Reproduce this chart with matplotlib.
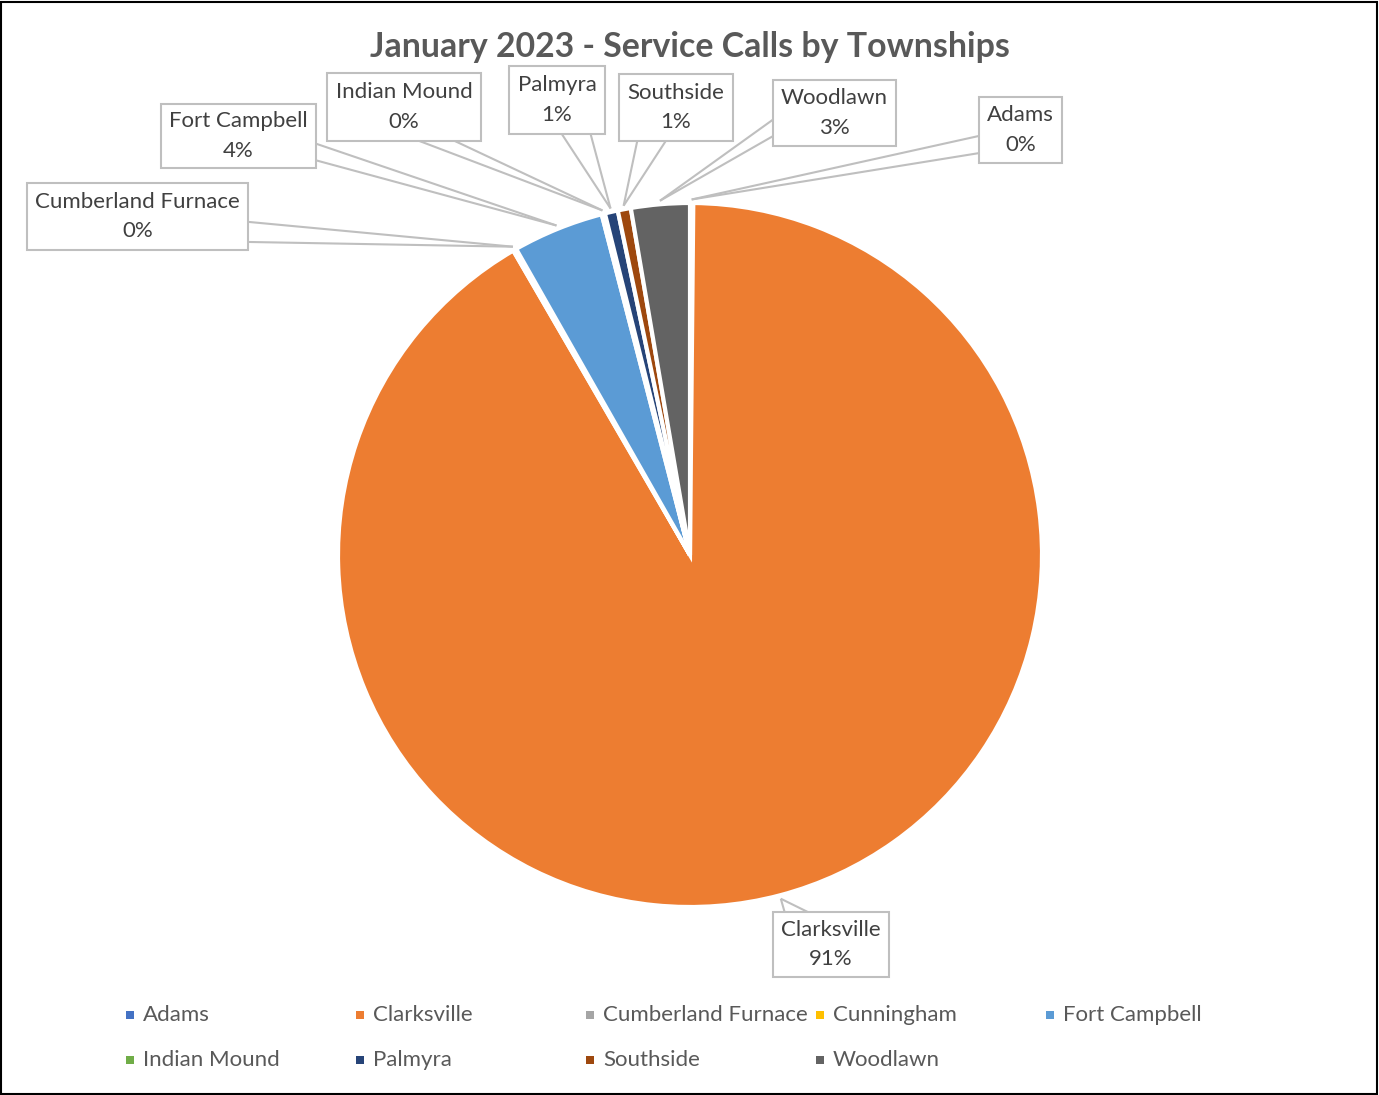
import matplotlib
matplotlib.use("Agg")
import matplotlib.pyplot as plt
from matplotlib.patches import Rectangle
import numpy as np

plt.rcParams['font.family'] = ['Lato', 'DejaVu Sans']

# service calls per township, January 2023
townships = ['Adams', 'Clarksville', 'Cumberland Furnace', 'Cunningham', 'Fort Campbell',
             'Indian Mound', 'Palmyra', 'Southside', 'Woodlawn']
calls = [1, 612, 1, 0, 28, 1, 4, 4, 18]
colors = ['#4472C4', '#ED7D31', '#A5A5A5', '#FFC000', '#5B9BD5',
          '#70AD47', '#264478', '#9E480E', '#636363']

# label box layout in pixels: left, top, right, bottom, side the callout leaves from, edge fractions
label_boxes = {
    'Adams': (979, 97, 1062, 163, 'left', 0.59, 0.85),
    'Clarksville': (773, 912, 889, 977, 'top', 0.1, 0.3),
    'Cumberland Furnace': (27, 183, 248, 250, 'right', 0.58, 0.88),
    'Fort Campbell': (161, 104, 316, 168, 'right', 0.62, 0.88),
    'Indian Mound': (327, 73, 481, 141, 'bottom', 0.6, 0.83),
    'Palmyra': (509, 66, 605, 134, 'bottom', 0.55, 0.85),
    'Southside': (619, 74, 733, 141, 'bottom', 0.16, 0.41),
    'Woodlawn': (773, 80, 896, 146, 'left', 0.6, 0.85),
}

W, H = 1379, 1095
CX, CY, R = 690, 555, 352


def to_data(x, y):
    return (x - CX) / R, (CY - y) / R


fig = plt.figure(figsize=(W / 100, H / 100), dpi=100)
ax = fig.add_axes([0, 0, 1, 1])

wedges, _ = ax.pie(calls, colors=colors, startangle=90, counterclock=False,
                   wedgeprops=dict(edgecolor='white', linewidth=3))
ax.set_xlim(-CX / R, (W - CX) / R)
ax.set_ylim(-(H - CY) / R, CY / R)
ax.set_aspect('equal')
ax.axis('off')

total = sum(calls)
line_col = '#BFBFBF'
for w, name, v in zip(wedges, townships, calls):
    if name not in label_boxes:
        continue
    l, t, r, b, side, f1, f2 = label_boxes[name]
    mid = np.deg2rad((w.theta1 + w.theta2) / 2)
    ax_pt = (1.01 * np.cos(mid), 1.01 * np.sin(mid))
    x0, y0 = to_data(l, b)
    x1, y1 = to_data(r, t)
    if side == 'left':
        base = [(x0, y1 - f * (y1 - y0)) for f in (f1, f2)]
    elif side == 'right':
        base = [(x1, y1 - f * (y1 - y0)) for f in (f1, f2)]
    elif side == 'bottom':
        base = [(x0 + f * (x1 - x0), y0) for f in (f1, f2)]
    else:
        base = [(x0 + f * (x1 - x0), y1) for f in (f1, f2)]
    for bx, by in base:
        ax.plot([bx, ax_pt[0]], [by, ax_pt[1]], color=line_col, lw=1.5, zorder=3,
                solid_capstyle='butt')
    ax.add_patch(Rectangle((x0, y0), x1 - x0, y1 - y0, facecolor='white',
                           edgecolor=line_col, lw=1.5, zorder=4))
    pct = 100 * v / total
    ax.text((x0 + x1) / 2, (y0 + y1) / 2, f"{name}\n{pct:.0f}%", ha='center', va='center',
            fontsize=16, color='#404040', linespacing=1.6, zorder=5)

fig.text(0.5, 1 - 47 / H, 'January 2023 - Service Calls by Townships', ha='center', va='center',
         fontsize=24.4, fontweight='bold', color='#595959')

# legend, five equal columns like Excel
for i, (name, c) in enumerate(zip(townships, colors)):
    col, row = i % 5, i // 5
    lx = 126 + col * 230
    ly = 1015 + row * 45
    fig.patches.append(Rectangle((lx / W, 1 - (ly + 4) / H), 8 / W, 8 / H,
                                 facecolor=c, edgecolor='none', transform=fig.transFigure))
    fig.text((lx + 17) / W, 1 - ly / H, name, ha='left', va='center',
             fontsize=16, color='#595959')

fig.patches.append(Rectangle((1 / W, 1 / H), (W - 3) / W, (H - 3) / H, facecolor='none',
                             edgecolor='black', lw=1.5, transform=fig.transFigure))

fig.savefig('out.png', dpi=100)
